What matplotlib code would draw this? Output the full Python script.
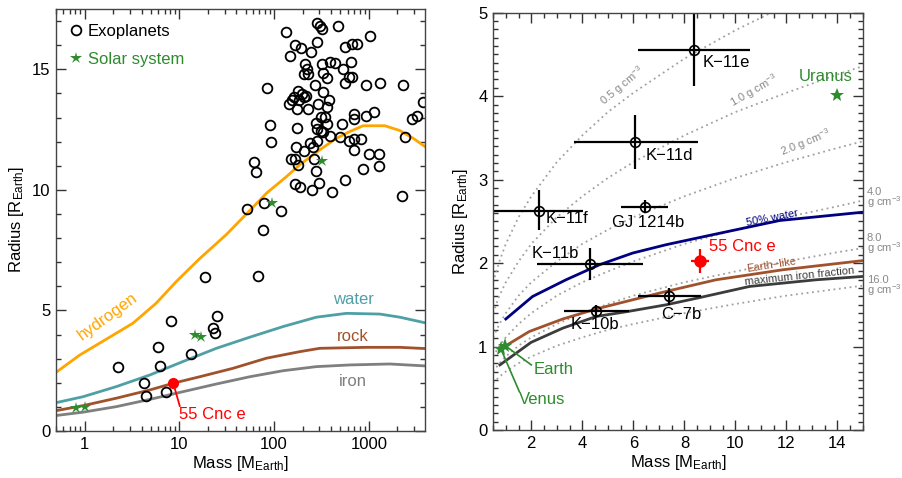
import numpy as np
import matplotlib
matplotlib.use('Agg')
import matplotlib.pyplot as plt
from matplotlib.lines import Line2D
from matplotlib.ticker import LogLocator, MultipleLocator, NullFormatter

plt.rcParams['font.family'] = ['Liberation Sans', 'DejaVu Sans']
plt.rcParams['mathtext.fontset'] = 'custom'
plt.rcParams['mathtext.rm'] = 'Liberation Sans'
plt.rcParams['mathtext.it'] = 'Liberation Sans:italic'

# ---- left panel data: known exoplanets (mass, radius in Earth units)
exo_mass = [135, 286, 308, 321, 477, 1022, 168, 191, 286, 245, 146, 561, 660, 740,
            214, 223, 205, 230, 321, 389, 440, 644, 324, 357, 534, 561, 618, 660,
            85, 267, 179, 197, 205, 161, 153, 143, 183, 219, 328, 377, 225, 176,
            291, 365, 927, 1294, 2297, 3680, 2838, 3228, 688, 698, 927, 1127, 277,
            311, 345, 357, 284, 316, 328, 526, 90, 176, 389, 493, 618, 688, 827,
            92, 238, 284, 170, 260, 205, 693, 150, 168, 264, 179, 991, 1263, 61,
            65, 277, 862, 1263, 561, 166, 188, 301, 254, 409, 2243, 52, 78, 117,
            2376, 76, 68, 18.5, 8.2, 25.2, 22.6, 24, 6.0, 13.2, 2.25, 6.3, 4.2,
            4.5, 7.3]
exo_radius = [16.54, 16.94, 16.78, 16.69, 16.80, 16.40, 16.00, 15.88, 16.13, 15.70,
              15.56, 15.92, 16.04, 16.04, 15.24, 15.01, 14.81, 14.79, 15.24, 15.30,
              15.28, 15.31, 14.84, 14.66, 15.01, 14.45, 14.68, 14.68, 14.23, 14.34,
              14.12, 13.96, 13.86, 13.87, 13.73, 13.57, 13.71, 13.91, 14.07, 13.72,
              13.35, 13.35, 13.55, 13.44, 14.34, 14.45, 14.34, 13.64, 12.96, 13.06,
              13.13, 12.92, 13.07, 13.24, 12.77, 13.01, 13.03, 12.74, 12.53, 12.43,
              12.39, 12.72, 12.68, 12.56, 12.25, 12.19, 12.02, 12.10, 12.10, 11.99,
              11.96, 12.02, 11.77, 11.76, 11.63, 11.64, 11.27, 11.30, 11.30, 11.04,
              11.47, 11.48, 11.16, 10.75, 10.79, 10.87, 11.01, 10.41, 10.24, 10.10,
              10.28, 9.99, 9.93, 9.75, 9.22, 9.47, 9.13, 12.21, 8.34, 6.43, 6.38,
              4.56, 4.76, 4.26, 4.05, 3.47, 3.20, 2.66, 2.71, 1.99, 1.45, 1.61]

# solar system: Venus, Earth, Uranus, Neptune, Saturn, Jupiter
sol_mass = [0.815, 1.0, 14.5, 17.1, 95.2, 317.8]
sol_radius = [0.95, 1.0, 4.0, 3.88, 9.45, 11.21]

cnc_mass = 8.6
cnc_radius = 2.0

# composition curves
h_mass = [0.5, 0.89, 1.44, 3.24, 5.7, 9.3, 16.4, 31.4, 51, 83, 135, 186, 303, 455,
          629, 868, 1472, 2120, 2930, 3890]
h_radius = [2.43, 3.15, 3.64, 4.47, 5.30, 6.20, 7.15, 8.15, 9.00, 9.86, 10.55, 11.04,
            11.66, 12.14, 12.42, 12.66, 12.66, 12.46, 12.14, 11.80]
w_mass = [0.494, 0.96, 2.16, 4.86, 10.9, 24.6, 55.3, 124, 279, 579, 1303, 2120, 3890]
w_radius = [1.17, 1.42, 1.84, 2.32, 2.88, 3.43, 3.89, 4.33, 4.72, 4.88, 4.85, 4.72, 4.49]
r_mass = [0.494, 0.96, 2.16, 4.86, 8.6, 16.4, 36.8, 83, 186, 303, 944, 2120, 3890]
r_radius = [0.84, 1.05, 1.36, 1.70, 1.98, 2.25, 2.60, 3.02, 3.29, 3.43, 3.47, 3.47, 3.42]
fe_mass = [0.494, 0.96, 2.16, 4.86, 10.9, 24.6, 55.3, 124, 279, 629, 1662, 3890]
fe_radius = [0.64, 0.78, 1.01, 1.31, 1.63, 1.95, 2.25, 2.50, 2.67, 2.74, 2.78, 2.70]

# ---- right panel data
pl_names = ['K\u221211e', 'K\u221211d', 'K\u221211f', 'GJ 1214b', 'K\u221211b',
            'K\u221210b', 'C\u22127b']
pl_mass = [8.39, 6.08, 2.29, 6.46, 4.30, 4.54, 7.41]
pl_radius = [4.55, 3.45, 2.63, 2.67, 1.99, 1.43, 1.60]
pl_m_lo = [2.22, 2.39, 1.90, 0.94, 2.09, 1.25, 1.24]
pl_m_hi = [2.20, 2.44, 1.72, 0.91, 2.09, 1.30, 1.24]
pl_r_lo = [0.43, 0.32, 0.23, 0.07, 0.19, 0.06, 0.10]
pl_r_hi = [0.43, 0.32, 0.24, 0.08, 0.19, 0.07, 0.10]

cnc_m_err = [[0.35], [0.37]]
cnc_r_err = [[0.14], [0.15]]

uranus = (14.0, 4.02)
venus = (0.81, 0.97)
earth = (0.98, 1.01)

wat50_mass = [1.0, 2.05, 3.36, 4.67, 5.97, 7.28, 9.11, 11.73, 15.0]
wat50_radius = [1.33, 1.60, 1.80, 1.98, 2.12, 2.22, 2.34, 2.51, 2.61]
elike_mass = [1.0, 1.92, 3.23, 4.54, 5.97, 7.28, 9.24, 11.86, 15.0]
elike_radius = [1.01, 1.18, 1.33, 1.45, 1.56, 1.66, 1.80, 1.92, 2.03]
maxfe_mass = [0.77, 1.99, 3.23, 4.54, 5.78, 7.28, 8.65, 10.55, 13.16, 15.0]
maxfe_radius = [0.78, 1.05, 1.22, 1.36, 1.42, 1.50, 1.59, 1.72, 1.80, 1.84]

# constant density curves (g cm^-3)
dens_mass = [0.5, 0.75, 1, 1.5, 2, 3, 4, 5, 6, 8, 10, 12, 14, 15]
dens_r05 = [1.77, 2.02, 2.23, 2.55, 2.80, 3.21, 3.53, 3.81, 4.04, 4.45, 4.79, 5.09, 5.36, 5.48]
dens_r1 = [1.40, 1.61, 1.77, 2.02, 2.23, 2.55, 2.80, 3.02, 3.21, 3.53, 3.81, 4.04, 4.26, 4.36]
dens_r2 = [1.11, 1.27, 1.40, 1.61, 1.77, 2.02, 2.23, 2.40, 2.55, 2.80, 3.02, 3.21, 3.38, 3.46]
dens_r4 = [0.88, 1.01, 1.11, 1.27, 1.40, 1.61, 1.77, 1.90, 2.02, 2.23, 2.40, 2.55, 2.68, 2.75]
dens_r8 = [0.70, 0.80, 0.88, 1.01, 1.11, 1.27, 1.40, 1.51, 1.61, 1.77, 1.90, 2.02, 2.13, 2.18]
dens_r16 = [0.56, 0.64, 0.70, 0.80, 0.88, 1.01, 1.11, 1.20, 1.27, 1.40, 1.51, 1.61, 1.69, 1.73]

GREEN = '#2e8b2e'
ORANGE = '#ffa500'
TEAL = '#4fa0a5'
BROWN = '#a0522d'
GRAY = '#7f7f7f'
DOTC = '#a0a0a0'

fig = plt.figure(figsize=(9.03, 4.78), dpi=100)
ax1 = fig.add_axes([0.062, 0.0983, 0.4086, 0.8828])
ax2 = fig.add_axes([0.546, 0.1004, 0.4097, 0.873])

for ax in (ax1, ax2):
    ax.tick_params(which='both', direction='in', top=True, right=True,
                   labelsize=12, width=1, pad=4, color='#333333')
    ax.tick_params(which='major', length=7)
    ax.tick_params(which='minor', length=3.5)
    for s in ax.spines.values():
        s.set_linewidth(1)
        s.set_color('#444444')

# ---------- left panel
ax1.set_xscale('log')
ax1.plot(h_mass, h_radius, color=ORANGE, lw=2)
ax1.plot(w_mass, w_radius, color=TEAL, lw=2)
ax1.plot(r_mass, r_radius, color=BROWN, lw=2)
ax1.plot(fe_mass, fe_radius, color=GRAY, lw=2)
ax1.plot(exo_mass, exo_radius, 'o', mfc='none', mec='black', ms=7, mew=1.3)
ax1.plot(sol_mass, sol_radius, '*', color=GREEN, ms=9, mew=0)
ax1.plot([cnc_mass], [cnc_radius], 'o', color='red', ms=7)
ax1.plot([cnc_mass, 10.1], [cnc_radius, 1.04], color='red', lw=1.3)
ax1.text(9.84, 0.69, '55 Cnc e', color='red', fontsize=12, va='center', ha='left')

ax1.text(1.75, 4.75, 'hydrogen', color=ORANGE, fontsize=12, rotation=36,
         ha='center', va='center')
ax1.text(681, 5.46, 'water', color=TEAL, fontsize=12, ha='center', va='center')
ax1.text(681, 3.94, 'rock', color=BROWN, fontsize=12, ha='center', va='center')
ax1.text(681, 2.05, 'iron', color=GRAY, fontsize=12, ha='center', va='center')

ax1.set_xlim(0.5, 3900)
ax1.set_ylim(0, 17.5)
ax1.set_xticks([1, 10, 100, 1000])
ax1.set_xticklabels(['1', '10', '100', '1000'])
ax1.xaxis.set_minor_locator(LogLocator(base=10, subs=np.arange(2, 10)))
ax1.xaxis.set_minor_formatter(NullFormatter())
ax1.set_yticks([0, 5, 10, 15])
ax1.yaxis.set_minor_locator(MultipleLocator(1))
ax1.set_xlabel(r'Mass [M$_{\mathrm{Earth}}$]', fontsize=12, labelpad=2)
ax1.set_ylabel(r'Radius [R$_{\mathrm{Earth}}$]', fontsize=12, labelpad=4)

handles = [Line2D([], [], ls='none', marker='o', mfc='none', mec='black', ms=7, mew=1.3),
           Line2D([], [], ls='none', marker='*', color=GREEN, ms=9, mew=0)]
leg = ax1.legend(handles, ['Exoplanets', 'Solar system'], loc='upper left',
                 frameon=False, fontsize=12, handlelength=0.6, handletextpad=0.4,
                 borderaxespad=0.5, labelspacing=0.75)
leg.get_texts()[1].set_color(GREEN)

# ---------- right panel
dens_sets = [dens_r05, dens_r1, dens_r2, dens_r4, dens_r8, dens_r16]
for rr in dens_sets:
    ax2.plot(dens_mass, rr, color=DOTC, lw=1.3, ls=(0, (1, 2)))

ax2.plot(wat50_mass, wat50_radius, color='#000080', lw=2)
ax2.plot(elike_mass, elike_radius, color=BROWN, lw=2)
ax2.plot(maxfe_mass, maxfe_radius, color='#3c3c3c', lw=2)

ax2.errorbar(pl_mass, pl_radius, xerr=[pl_m_lo, pl_m_hi], yerr=[pl_r_lo, pl_r_hi],
             fmt='o', mfc='none', mec='black', ms=7, mew=1.2, ecolor='black',
             elinewidth=1.6, capsize=0)
ax2.errorbar([cnc_mass], [2.02], xerr=cnc_m_err, yerr=cnc_r_err, fmt='o',
             color='red', ms=8, elinewidth=1.6, capsize=0)

ax2.plot([uranus[0]], [uranus[1]], '*', color=GREEN, ms=10, mew=0)
ax2.plot([venus[0], earth[0]], [venus[1], earth[1]], '*', color=GREEN, ms=11, mew=0)
ax2.plot([earth[0], 2.0], [earth[1], 0.78], color=GREEN, lw=1.2)
ax2.plot([venus[0], 1.53], [venus[1], 0.46], color=GREEN, lw=1.2)
ax2.text(2.08, 0.73, 'Earth', color=GREEN, fontsize=12, ha='left', va='center')
ax2.text(1.53, 0.37, 'Venus', color=GREEN, fontsize=12, ha='left', va='center')
ax2.text(13.53, 4.24, 'Uranus', color=GREEN, fontsize=12, ha='center', va='center')

lab_x = [8.70, 6.50, 2.58, 5.18, 2.00, 3.56, 7.08]
lab_y = [4.40, 3.29, 2.54, 2.49, 2.12, 1.26, 1.38]
for name, lx, ly in zip(pl_names, lab_x, lab_y):
    ax2.text(lx, ly, name, fontsize=12, ha='left', va='center')
ax2.text(8.98, 2.20, '55 Cnc e', color='red', fontsize=12, ha='left', va='center')

gcm = r'g cm$^{-3}$'
ax2.text(5.58, 4.13, '0.5 ' + gcm, color='#888888', fontsize=8, rotation=40,
         ha='center', va='center')
ax2.text(10.75, 4.06, '1.0 ' + gcm, color='#888888', fontsize=8, rotation=30,
         ha='center', va='center')
ax2.text(12.77, 3.44, '2.0 ' + gcm, color='#888888', fontsize=8, rotation=22,
         ha='center', va='center')
for lab, ly in [('4.0', 2.77), ('8.0', 2.22), ('16.0', 1.72)]:
    ax2.text(15.15, ly, lab + '\n' + gcm, color='#888888', fontsize=8,
             ha='left', va='center', linespacing=0.75, clip_on=False)

ax2.text(11.46, 2.54, '50% water', color='#000080', fontsize=8, rotation=11,
         ha='center', va='center')
ax2.text(11.40, 1.98, 'Earth\u2212like', color=BROWN, fontsize=8, rotation=9,
         ha='center', va='center')
ax2.text(12.5, 1.84, 'maximum iron fraction', color='#3c3c3c', fontsize=8, rotation=6,
         ha='center', va='center')

ax2.set_xlim(0.5, 15)
ax2.set_ylim(0, 5)
ax2.set_xticks([2, 4, 6, 8, 10, 12, 14])
ax2.xaxis.set_minor_locator(MultipleLocator(0.5))
ax2.set_yticks([0, 1, 2, 3, 4, 5])
ax2.yaxis.set_minor_locator(MultipleLocator(0.1))
ax2.set_xlabel(r'Mass [M$_{\mathrm{Earth}}$]', fontsize=12, labelpad=2)
ax2.set_ylabel(r'Radius [R$_{\mathrm{Earth}}$]', fontsize=12, labelpad=6)

fig.savefig('out.png', dpi=100)
